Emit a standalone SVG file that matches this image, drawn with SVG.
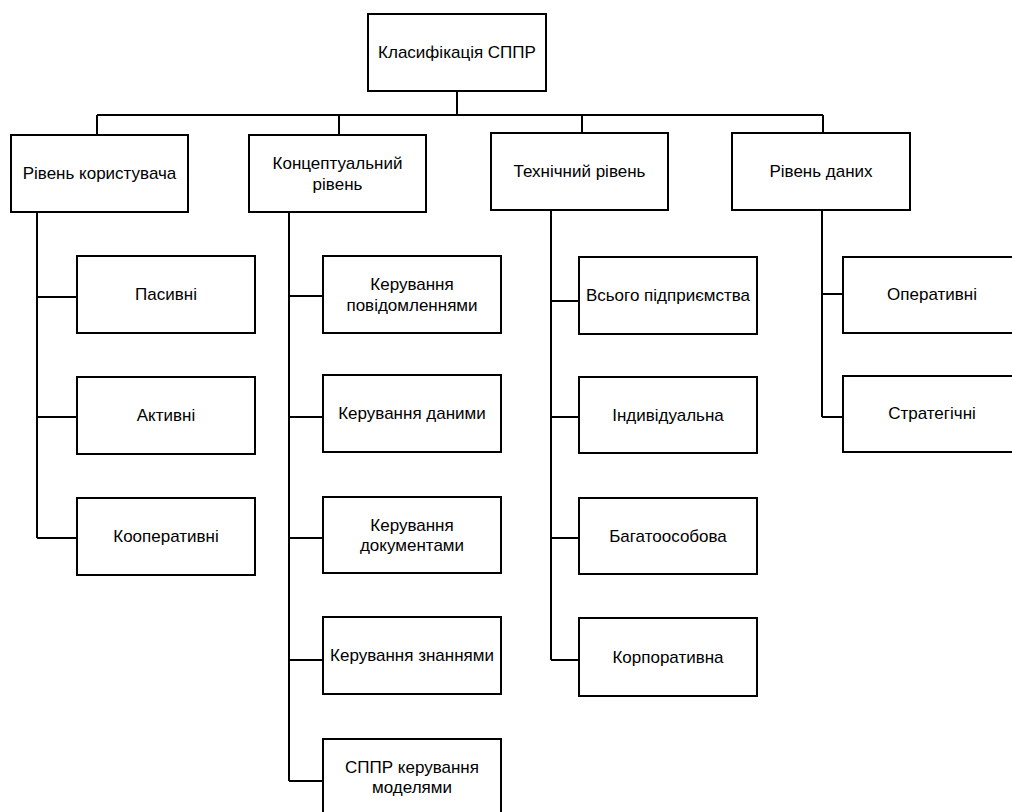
<svg xmlns="http://www.w3.org/2000/svg" width="1012" height="812" viewBox="0 0 1012 812">
<style>
.box{fill:#fff;stroke:#000;stroke-width:2}
.ln{fill:none;stroke:#000;stroke-width:2}
text{font-family:"Liberation Sans",Arial,sans-serif;font-size:17px;fill:#000;text-anchor:middle;dominant-baseline:central}
</style>
<rect width="1012" height="812" fill="#fff"/>
<g id="connectors">
<path class="ln" d="M457 91V115M97 115H823M97 115V135M339 115V135M582 115V133M823 115V133"/>
<path class="ln" d="M37 212V538M37 297H77M37 417H77M37 538H77"/>
<path class="ln" d="M289 212V781M289 296H323M289 417H323M289 538H323M289 660H323M289 781H323"/>
<path class="ln" d="M551 210V660M551 301H579M551 417H579M551 538H579M551 660H579"/>
<path class="ln" d="M822 210V417M822 294H843M822 417H843"/>
</g>
<g id="root"><rect class="box" x="368" y="14" width="178" height="77"/><text x="457" y="52.5">Класифікація СППР</text></g>
<g id="user"><rect class="box" x="11" y="135" width="177" height="77"/><text x="99.5" y="173.5">Рівень користувача</text></g>
<g id="concept"><rect class="box" x="249" y="135" width="177" height="77"/><text x="337.5" y="163.5">Концептуальний</text><text x="337.5" y="184">рівень</text></g>
<g id="tech"><rect class="box" x="491" y="133" width="177" height="77"/><text x="579.5" y="171.5">Технічний рівень</text></g>
<g id="data"><rect class="box" x="732" y="133" width="178" height="77"/><text x="821" y="171.5">Рівень даних</text></g>
<g id="passive"><rect class="box" x="77" y="256" width="178" height="77"/><text x="166" y="294.5">Пасивні</text></g>
<g id="active"><rect class="box" x="77" y="377" width="178" height="77"/><text x="166" y="415.5">Активні</text></g>
<g id="coop"><rect class="box" x="77" y="498" width="178" height="77"/><text x="166" y="536.5">Кооперативні</text></g>
<g id="msg"><rect class="box" x="323" y="256" width="178" height="77"/><text x="412" y="284.5">Керування</text><text x="412" y="305">повідомленнями</text></g>
<g id="datamgmt"><rect class="box" x="323" y="375" width="178" height="77"/><text x="412" y="413.5">Керування даними</text></g>
<g id="docs"><rect class="box" x="323" y="497" width="178" height="76"/><text x="412" y="525">Керування</text><text x="412" y="545.5">документами</text></g>
<g id="knowledge"><rect class="box" x="323" y="617" width="178" height="77"/><text x="412" y="655.5">Керування знаннями</text></g>
<g id="models"><rect class="box" x="323" y="739" width="178" height="77"/><text x="412" y="767">СППР керування</text><text x="412" y="787.5">моделями</text></g>
<g id="enterprise"><rect class="box" x="579" y="257" width="178" height="77"/><text x="668" y="295.5">Всього підприємства</text></g>
<g id="individual"><rect class="box" x="579" y="377" width="178" height="76"/><text x="668" y="415">Індивідуальна</text></g>
<g id="multi"><rect class="box" x="579" y="498" width="178" height="76"/><text x="668" y="536">Багатоособова</text></g>
<g id="corp"><rect class="box" x="579" y="618" width="178" height="78"/><text x="668" y="657">Корпоративна</text></g>
<g id="operative"><rect class="box" x="843" y="257" width="178" height="76"/><text x="932" y="294">Оперативні</text></g>
<g id="strategic"><rect class="box" x="843" y="376" width="178" height="76"/><text x="932" y="413">Стратегічні</text></g>
</svg>
